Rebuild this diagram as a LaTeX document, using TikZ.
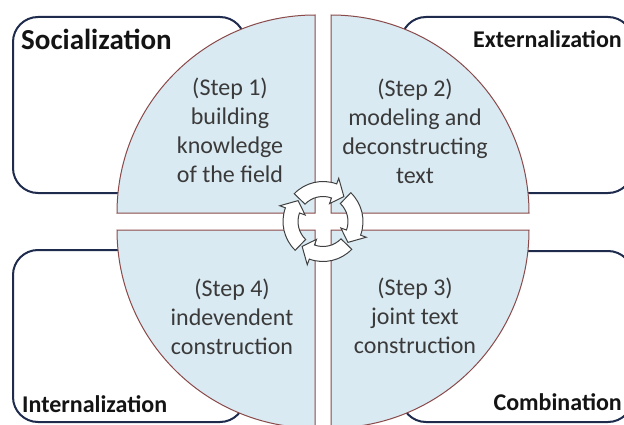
\documentclass[tikz,border=0pt]{standalone}
\usepackage{fontspec}
\setmainfont{Carlito}
\usepackage{tikz}
\usetikzlibrary{positioning}
\definecolor{matBlue}{HTML}{DAEAF2}
\definecolor{matEdge}{HTML}{8A4A4A}
\definecolor{matNavy}{HTML}{1E2B4D}
\definecolor{matText}{HTML}{3A3A3A}
\tikzset{
  modebox/.style={draw=matNavy,fill=white,line width=2pt,rounded corners=25pt,
    minimum width=232pt,inner sep=0pt},
  quadrant/.style={draw=matEdge,fill=matBlue,line width=1pt},
  steptext/.style={align=center,text=matText,inner sep=0pt,
    font=\fontsize{24}{29}\selectfont},
  modelabel/.style={text=black!92,inner sep=0pt,
    font=\fontsize{24}{28}\selectfont\bfseries},
  cyclearrow/.style={draw=black!75,fill=white,line width=1pt}
}
\begin{document}
\begin{tikzpicture}[x=1pt,y=1pt]
  \clip (0,0) rectangle (624,424);
  \coordinate (mid) at (323,202.5);

  % the four knowledge modes behind the wheel
  \node[modebox, minimum height=176pt] (socbox) at (129,319) {};
  \node[modebox, minimum height=176pt] (extbox) at (517,319) {};
  \node[modebox, minimum height=172pt] (intbox) at (129,88) {};
  \node[modebox, minimum height=171pt] (combox) at (517,87.5) {};

  \node[modelabel, anchor=base west, font=\fontsize{29}{33}\selectfont\bfseries]
    (soc) at (21,374) {Socialization};
  \node[modelabel, anchor=base east] (ext) at (622,376) {Externalization};
  \node[modelabel, anchor=base west] (int) at (22,12) {Internalization};
  \node[modelabel, anchor=base east] (comb) at (622,14) {Combination};

  % wheel cut into quarters
  \filldraw[quadrant] (315,211) -- ++(0,198) arc[start angle=90,end angle=180,radius=198] -- cycle;
  \filldraw[quadrant] (331,211) -- ++(198,0) arc[start angle=0,end angle=90,radius=198] -- cycle;
  \filldraw[quadrant] (331,194) -- ++(0,-198) arc[start angle=270,end angle=360,radius=198] -- cycle;
  \filldraw[quadrant] (315,194) -- ++(-198,0) arc[start angle=180,end angle=270,radius=198] -- cycle;

  \node[steptext] (step1) at (230,294) {(Step 1)\\building\\knowledge\\of the field};
  \node[steptext] (step2) at (415,293) {(Step 2)\\modeling and\\deconstructing\\text};
  \node[steptext] (step3) at (415,108) {(Step 3)\\joint text\\construction};
  \node[steptext] (step4) at (232,107) {(Step 4)\\indevendent\\construction};

  % turning arrows in the middle
  \begin{scope}[shift={(mid)}]
    \foreach \a in {50,-40,-130,-220}
      \draw[cyclearrow] (\a+86:40) arc[start angle=\a+86,end angle=\a+20,radius=40]
        -- (\a+20:46) -- (\a:32.5) -- (\a+20:19) -- (\a+20:25)
        arc[start angle=\a+20,end angle=\a+86,radius=25] -- cycle;
  \end{scope}
\end{tikzpicture}
\end{document}
